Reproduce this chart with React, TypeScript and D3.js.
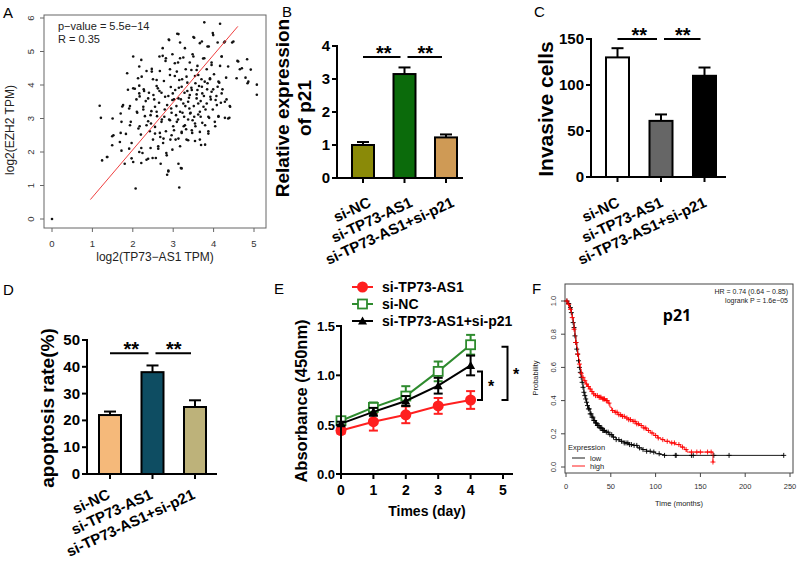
import React from "react";
import * as d3 from "d3";

const FONT = "'Liberation Sans', Arial, Helvetica, sans-serif";

// ---------- Panel A: scatter ----------
const scatterPoints: [number, number][] = [
  [0, 0], [1.18, 3.38], [1.21, 3.02], [1.24, 1.75], [1.36, 1.85], [1.5, 3.0], [1.49, 2.47], [1.49, 2.2],
  [1.7, 3.15], [1.7, 2.57], [1.74, 3.36], [1.72, 2.04], [1.8, 1.65], [1.86, 4.35], [1.83, 2.54], [1.88, 3.86],
  [1.93, 3.37], [1.95, 2.9], [1.97, 2.27], [1.97, 1.81], [2.01, 4.85], [2.05, 3.89], [2.07, 0.91], [2.09, 3.57],
  [2.11, 3.17], [2.13, 4.2], [2.16, 3.98], [2.17, 3.66], [2.17, 2.77], [2.2, 2.52], [2.21, 4.75], [2.21, 2.12],
  [2.21, 1.67], [2.24, 1.97], [2.26, 3.27], [2.27, 3.87], [2.3, 3.07], [2.32, 3.52], [2.34, 4.42], [2.34, 1.77],
  [2.38, 2.92], [2.4, 3.77], [2.42, 2.62], [2.44, 2.12], [2.46, 3.22], [2.47, 4.48], [2.49, 1.82], [2.5, 2.37],
  [2.5, 4.17], [2.53, 3.57], [2.55, 2.75], [2.57, 1.82], [2.59, 3.97], [2.6, 3.07], [2.63, 2.17], [2.65, 3.47],
  [2.67, 4.42], [2.67, 2.57], [2.69, 1.65], [2.71, 3.77], [2.72, 2.97], [2.74, 4.87], [2.75, 2.27], [2.77, 4.12],
  [2.79, 3.27], [2.81, 4.72], [2.82, 2.62], [2.83, 1.97], [2.85, 1.32], [2.88, 1.42], [2.88, 3.67], [2.89, 5.36],
  [2.9, 2.97], [2.92, 4.47], [2.93, 2.37], [2.94, 3.94], [2.96, 3.17], [2.98, 4.92], [2.98, 2.07], [3.0, 2.77],
  [3.02, 3.57], [3.04, 4.27], [3.06, 2.37], [3.08, 3.37], [3.1, 5.53], [3.12, 4.67], [3.12, 2.97], [3.14, 3.92],
  [3.15, 0.94], [3.17, 5.27], [3.17, 2.17], [3.19, 1.52], [3.19, 3.57], [3.21, 2.57], [3.22, 4.17], [3.23, 3.17],
  [3.25, 4.82], [3.26, 2.77], [3.28, 3.77], [3.3, 3.37], [3.31, 4.47], [3.33, 2.37], [3.35, 4.07], [3.37, 2.97],
  [3.39, 3.62], [3.41, 4.67], [3.43, 3.17], [3.45, 3.92], [3.47, 2.57], [3.48, 4.92], [3.5, 5.43], [3.51, 3.37],
  [3.54, 4.27], [3.55, 2.77], [3.58, 3.72], [3.6, 4.57], [3.62, 3.12], [3.64, 3.97], [3.66, 2.37], [3.66, 5.25],
  [3.68, 3.52], [3.7, 4.17], [3.72, 2.87], [3.74, 4.79], [3.76, 3.67], [3.77, 5.87], [3.79, 2.22], [3.8, 3.27],
  [3.83, 4.47], [3.84, 3.87], [3.87, 2.62], [3.88, 5.15], [3.89, 3.02], [3.91, 4.17], [3.93, 3.57], [3.95, 4.67],
  [3.98, 5.55], [3.98, 3.27], [3.99, 3.87], [4.01, 4.32], [4.04, 2.77], [4.07, 3.67], [4.1, 5.27], [4.12, 3.07],
  [4.14, 4.07], [4.16, 5.83], [4.16, 4.57], [4.18, 3.47], [4.2, 4.85], [4.22, 3.87], [4.26, 5.27], [4.28, 3.02],
  [4.31, 4.22], [4.32, 3.57], [4.39, 3.02], [4.4, 3.37], [4.46, 5.27], [4.59, 4.72], [4.65, 4.47], [4.79, 4.22],
  [4.83, 4.77], [4.86, 4.1], [4.92, 4.46], [5.07, 4.01], [5.07, 3.71],
  [2.9, 5.34], [2.74, 5.1], [2.16, 4.55], [2.82, 4.8], [2.66, 4.85], [3.04, 4.65], [2.22, 4.25], [2.47, 4.4],
  [2.59, 4.15], [2.92, 4.3], [2.01, 3.9], [2.16, 3.75], [2.28, 3.82], [2.38, 3.6], [2.51, 3.7], [2.66, 3.82],
  [2.8, 3.65], [2.99, 3.75], [1.76, 3.4], [1.91, 3.3], [2.1, 3.2], [2.26, 3.35], [2.44, 3.1], [2.59, 3.2],
  [2.71, 2.9], [2.92, 2.95], [3.07, 3.1], [1.72, 2.9], [1.93, 2.8], [2.14, 2.7], [2.34, 2.8], [2.55, 2.55],
  [2.76, 2.4], [2.96, 2.5], [1.52, 2.5], [1.68, 2.3], [1.91, 2.1], [2.16, 2.0], [2.38, 1.8], [2.63, 2.1],
  [2.84, 1.9], [1.37, 1.85], [2.01, 1.7], [3.13, 1.65], [2.88, 1.45],
  [3.13, 5.52], [3.52, 5.41], [3.71, 5.3], [3.99, 5.49], [4.28, 5.3], [4.49, 5.3], [3.29, 5.1], [3.85, 5.15],
  [3.17, 4.8], [3.5, 4.85], [3.77, 4.8], [3.95, 4.6], [4.2, 4.85], [4.61, 4.7], [4.36, 4.55], [4.7, 4.5],
  [3.09, 4.4], [3.33, 4.25], [3.62, 4.3], [3.91, 4.2], [4.12, 4.1], [4.57, 4.2], [4.84, 4.05], [3.21, 3.95],
  [3.46, 3.85], [3.71, 3.95], [3.95, 3.8], [4.2, 3.75], [3.13, 3.6], [3.37, 3.5], [3.58, 3.6], [3.83, 3.45],
  [4.08, 3.4], [4.28, 3.5], [4.41, 3.35], [3.17, 3.2], [3.42, 3.15], [3.66, 3.2], [3.87, 3.05], [4.12, 3.05],
  [4.36, 3.0], [3.09, 2.9], [3.29, 2.8], [3.54, 2.85], [3.79, 2.8], [4.03, 2.9], [3.21, 2.6], [3.46, 2.65],
  [3.66, 2.6], [3.87, 2.55], [3.13, 2.4], [3.37, 2.35], [3.54, 2.33], [3.69, 2.21], [3.21, 1.51],
  [3.35, 3.82], [3.55, 4.05], [3.62, 3.45], [3.75, 3.35], [3.41, 3.7], [3.05, 3.85], [2.85, 3.4], [3.27, 3.05],
  [3.48, 2.95], [3.58, 4.45], [3.72, 3.75], [2.98, 3.55], [3.15, 4.15], [3.85, 4.05], [4.05, 3.55], [3.45, 4.45],
  [2.55, 3.35], [2.62, 3.9], [2.78, 3.05], [2.95, 3.3], [3.02, 2.65], [3.25, 3.45], [3.4, 3.3], [3.52, 3.05],
  [3.6, 3.85], [3.78, 4.1], [3.92, 3.65], [4.1, 3.95], [2.45, 2.85], [2.68, 2.45], [3.32, 2.68], [3.68, 3.05],
];
const regressionLine: [number, number][] = [[0.95, 0.58], [4.6, 5.75]];
const scatterXTicks = [0, 1, 2, 3, 4, 5];
const scatterYTicks = [0, 1, 2, 3, 4, 5, 6];

// ---------- Bar panels ----------
const barCategories = ["si-NC", "si-TP73-AS1", "si-TP73-AS1+si-p21"];
const p21Values = [1.0, 3.15, 1.23];
const p21Errors = [0.09, 0.2, 0.09];
const p21Ticks = [0, 1, 2, 3, 4];
const invasiveValues = [130, 61, 110];
const invasiveErrors = [10, 7, 9];
const invasiveTicks = [0, 50, 100, 150];
const apoptosisValues = [22, 38, 25];
const apoptosisErrors = [1.3, 2.5, 2.5];
const apoptosisTicks = [0, 10, 20, 30, 40, 50];

// ---------- Panel E: growth curves ----------
const days = [0, 1, 2, 3, 4];
const dayTicks = [0, 1, 2, 3, 4, 5];
const absorbTicks = [0, 0.5, 1.0, 1.5];
const absTP73 = [0.44, 0.53, 0.6, 0.69, 0.75];
const errTP73 = [0.03, 0.09, 0.085, 0.08, 0.09];
const absNC = [0.54, 0.675, 0.79, 1.04, 1.31];
const errNC = [0.02, 0.05, 0.1, 0.1, 0.1];
const absP21 = [0.51, 0.63, 0.74, 0.895, 1.1];
const errP21 = [0.02, 0.04, 0.05, 0.08, 0.1];

// ---------- Panel F: Kaplan-Meier ----------
const kmLowTime = [0, 2, 4, 6, 7, 8, 9, 10, 11, 12, 13, 14, 15, 16, 17, 18, 19, 20, 21, 22, 23, 24, 25, 27, 29, 31, 33, 35, 38, 41, 44, 48, 52, 56, 60, 65, 70, 75, 80, 85, 90, 95, 100, 105, 110];
const kmLowSurv = [1, 0.985, 0.96, 0.93, 0.9, 0.87, 0.84, 0.79, 0.75, 0.71, 0.68, 0.64, 0.6, 0.57, 0.54, 0.51, 0.48, 0.45, 0.43, 0.41, 0.39, 0.37, 0.35, 0.32, 0.3, 0.28, 0.265, 0.25, 0.235, 0.22, 0.21, 0.195, 0.18, 0.165, 0.155, 0.145, 0.135, 0.13, 0.115, 0.105, 0.095, 0.09, 0.08, 0.075, 0.07];
const kmLowEnd = 243;
const kmLowCensor = [1, 3, 5, 6, 8, 9, 10, 11, 12, 13, 14, 15, 16, 17, 18, 19, 20, 21, 22, 23, 24, 25, 26, 27, 28, 29, 30, 31, 32, 33, 34, 35, 36, 37, 38, 39, 40, 41, 42, 43, 45, 47, 49, 51, 53, 56, 59, 62, 65, 67, 69, 71, 73, 76, 79, 82, 86, 90, 94, 98, 104, 110, 122, 123, 140, 142, 165, 182, 243];
const kmHighTime = [0, 2, 4, 6, 7, 8, 9, 10, 11, 12, 13, 14, 15, 16, 17, 18, 20, 22, 24, 26, 28, 30, 33, 36, 40, 44, 47, 49, 51, 54, 58, 62, 66, 70, 74, 78, 82, 86, 90, 94, 98, 102, 106, 110, 116, 122, 128, 132, 135, 164];
const kmHighSurv = [1, 0.98, 0.95, 0.92, 0.9, 0.87, 0.83, 0.79, 0.75, 0.72, 0.68, 0.65, 0.62, 0.59, 0.565, 0.54, 0.52, 0.5, 0.485, 0.47, 0.455, 0.44, 0.43, 0.42, 0.41, 0.4, 0.385, 0.36, 0.34, 0.33, 0.315, 0.305, 0.295, 0.285, 0.275, 0.26, 0.25, 0.235, 0.22, 0.205, 0.19, 0.175, 0.165, 0.155, 0.145, 0.135, 0.12, 0.105, 0.09, 0.03];
const kmHighEnd = 165;
const kmHighCensor = [1, 3, 5, 7, 9, 11, 13, 15, 17, 19, 21, 23, 25, 27, 29, 31, 33, 35, 37, 38, 39, 41, 42, 43, 45, 46, 48, 52, 55, 57, 59, 61, 63, 65, 68, 70, 72, 75, 77, 79, 81, 84, 87, 89, 92, 96, 100, 103, 108, 113, 118, 121, 126, 130, 134, 140, 146, 150, 158, 162, 164];
const kmXTicks = [0, 50, 100, 150, 200, 250];
const kmYTicks = [0, 0.2, 0.4, 0.6, 0.8, 1.0];

function PanelA() {
  const x = d3.scaleLinear().domain([0, 5]).range([52, 254]);
  const y = d3.scaleLinear().domain([0, 6]).range([219, 18]);
  return (
    <g fontFamily={FONT}>
      <text x={3} y={18} fontSize={15}>A</text>
      <rect x={44} y={15} width={222} height={213} fill="none" stroke="#666" strokeWidth={1} />
      {scatterXTicks.map((t) => (
        <g key={"xt" + t}>
          <line x1={x(t)} x2={x(t)} y1={228} y2={232} stroke="#666" />
          <text x={x(t)} y={247} fontSize={9.5} textAnchor="middle" fill="#333">{t}</text>
        </g>
      ))}
      {scatterYTicks.map((t) => (
        <g key={"yt" + t}>
          <line x1={40} x2={44} y1={y(t)} y2={y(t)} stroke="#666" />
          <text x={34} y={y(t)} fontSize={9.5} textAnchor="middle" fill="#333" transform={`rotate(-90,34,${y(t)})`}>{t}</text>
        </g>
      ))}
      {scatterPoints.map((p, i) => (
        <circle key={i} cx={x(p[0])} cy={y(p[1])} r={1.3} fill="#111" />
      ))}
      <line x1={x(regressionLine[0][0])} y1={y(regressionLine[0][1])} x2={x(regressionLine[1][0])} y2={y(regressionLine[1][1])} stroke="#f04040" strokeWidth={1} />
      <text x={58} y={30} fontSize={11} fill="#222">p−value = 5.5e−14</text>
      <text x={58} y={43} fontSize={11} fill="#222">R = 0.35</text>
      <text x={155} y={261} fontSize={12} textAnchor="middle" fill="#222">log2(TP73−AS1 TPM)</text>
      <text x={14} y={130} fontSize={12} textAnchor="middle" fill="#222" transform="rotate(-90,14,130)">log2(EZH2 TPM)</text>
    </g>
  );
}

type BarProps = {
  label: string; labelX: number; labelY: number;
  values: number[]; errors: number[]; colors: string[];
  yMax: number; ticks: number[];
  axisX: number; axisEnd: number; yBottom: number; yTop: number;
  first: number; last: number; barWidth: number; sigLevel: number;
  titles: string[]; titleXs: number[]; titleY: number; titleSize: number;
  labelDx: number; labelDy: number;
};

function BarPanel(p: BarProps) {
  const y = d3.scaleLinear().domain([0, p.yMax]).range([p.yBottom, p.yTop]);
  const x = d3.scalePoint<string>().domain(barCategories).range([p.first, p.last]);
  const sy = y(p.sigLevel);
  const c = barCategories.map((k) => x(k) as number);
  const sigPairs: [number, number][] = [[0, 1], [1, 2]];
  return (
    <g fontFamily={FONT}>
      <text x={p.labelX} y={p.labelY} fontSize={15}>{p.label}</text>
      {p.values.map((v, i) => {
        const cx = c[i];
        const top = y(v + p.errors[i]);
        return (
          <g key={i}>
            <line x1={cx} x2={cx} y1={y(v)} y2={top} stroke="#000" strokeWidth={2} />
            <line x1={cx - 6} x2={cx + 6} y1={top} y2={top} stroke="#000" strokeWidth={2} />
            <rect x={cx - p.barWidth / 2} y={y(v)} width={p.barWidth} height={p.yBottom - y(v)} fill={p.colors[i]} stroke="#000" strokeWidth={2} />
          </g>
        );
      })}
      <line x1={p.axisX} x2={p.axisX} y1={p.yTop - 1} y2={p.yBottom + 1} stroke="#000" strokeWidth={2} />
      <line x1={p.axisX - 1} x2={p.axisEnd} y1={p.yBottom} y2={p.yBottom} stroke="#000" strokeWidth={2} />
      {p.ticks.map((t) => (
        <g key={t}>
          <line x1={p.axisX - 5} x2={p.axisX} y1={y(t)} y2={y(t)} stroke="#000" strokeWidth={2} />
          <text x={p.axisX - 7} y={y(t) + 5} fontSize={15} fontWeight="bold" textAnchor="end">{t}</text>
        </g>
      ))}
      {barCategories.map((k, i) => {
        const ax = c[i] + p.labelDx, ay = p.yBottom + p.labelDy;
        return (
          <g key={k}>
            <line x1={c[i]} x2={c[i]} y1={p.yBottom} y2={p.yBottom + 5} stroke="#000" strokeWidth={2} />
            <text x={ax} y={ay} fontSize={15} fontWeight="bold" textAnchor="end" transform={`rotate(-25,${ax},${ay})`}>{k}</text>
          </g>
        );
      })}
      {sigPairs.map(([a, b], i) => (
        <g key={"s" + i}>
          <line x1={c[a] + (i === 0 ? 0 : 3)} x2={c[b] - 4} y1={sy} y2={sy} stroke="#000" strokeWidth={2} />
          <text x={(c[a] + c[b]) / 2} y={sy + 3} fontSize={20} fontWeight="bold" textAnchor="middle">**</text>
        </g>
      ))}
      {p.titles.map((t, i) => (
        <text key={t} x={p.titleXs[i]} y={p.titleY} fontSize={p.titleSize} fontWeight="bold" textAnchor="middle" transform={`rotate(-90,${p.titleXs[i]},${p.titleY})`}>{t}</text>
      ))}
    </g>
  );
}

function PanelE() {
  const x = d3.scaleLinear().domain([0, 5]).range([341, 503]);
  const y = d3.scaleLinear().domain([0, 1.5]).range([474, 326]);
  const line = d3.line<number>().x((_, i) => x(days[i])).y((d) => y(d));
  const series = [
    { name: "si-TP73-AS1", vals: absTP73, errs: errTP73, color: "#ff1f1f", kind: "circle" },
    { name: "si-NC", vals: absNC, errs: errNC, color: "#2e8b2e", kind: "square" },
    { name: "si-TP73-AS1+si-p21", vals: absP21, errs: errP21, color: "#000", kind: "tri" },
  ];
  const marker = (kind: string, cx: number, cy: number, color: string, k: string) => {
    if (kind === "circle") return <circle key={k} cx={cx} cy={cy} r={5.5} fill={color} />;
    if (kind === "square") return <rect key={k} x={cx - 4.5} y={cy - 4.5} width={9} height={9} fill="#fff" stroke={color} strokeWidth={1.8} />;
    return <path key={k} d={`M${cx},${cy - 4.5}L${cx + 4.5},${cy + 3.5}L${cx - 4.5},${cy + 3.5}Z`} fill={color} />;
  };
  const bx1 = 482, bx2 = 507.5;
  return (
    <g fontFamily={FONT}>
      <text x={274} y={294} fontSize={15}>E</text>
      {series.map((s) => (
        <g key={s.name}>
          <path d={line(s.vals) as string} fill="none" stroke={s.color} strokeWidth={2} />
          {s.vals.map((v, i) => (
            <g key={i}>
              <line x1={x(days[i])} x2={x(days[i])} y1={y(v - s.errs[i])} y2={y(v + s.errs[i])} stroke={s.color} strokeWidth={2} />
              <line x1={x(days[i]) - 4.5} x2={x(days[i]) + 4.5} y1={y(v - s.errs[i])} y2={y(v - s.errs[i])} stroke={s.color} strokeWidth={2} />
              <line x1={x(days[i]) - 4.5} x2={x(days[i]) + 4.5} y1={y(v + s.errs[i])} y2={y(v + s.errs[i])} stroke={s.color} strokeWidth={2} />
            </g>
          ))}
          {s.vals.map((v, i) => marker(s.kind, x(days[i]), y(v), s.color, "m" + i))}
        </g>
      ))}
      <line x1={341} x2={341} y1={y(1.5) - 1} y2={475} stroke="#000" strokeWidth={2} />
      <line x1={340} x2={513} y1={474} y2={474} stroke="#000" strokeWidth={2} />
      {absorbTicks.map((t) => (
        <g key={t}>
          <line x1={336} x2={341} y1={y(t)} y2={y(t)} stroke="#000" strokeWidth={2} />
          <text x={335} y={y(t) + 5} fontSize={13} fontWeight="bold" textAnchor="end">{t.toFixed(1)}</text>
        </g>
      ))}
      {dayTicks.map((t) => (
        <g key={t}>
          <line x1={x(t)} x2={x(t)} y1={474} y2={479} stroke="#000" strokeWidth={2} />
          <text x={x(t)} y={495} fontSize={14} fontWeight="bold" textAnchor="middle">{t}</text>
        </g>
      ))}
      <text x={427} y={516} fontSize={14} fontWeight="bold" textAnchor="middle">Times (day)</text>
      <text x={307} y={401} fontSize={16.5} fontWeight="bold" textAnchor="middle" transform="rotate(-90,307,401)">Absorbance (450nm)</text>
      {/* brackets */}
      <path d={`M${bx1 - 5},${y(1.04)}H${bx1}V${y(0.75)}H${bx1 - 5}`} fill="none" stroke="#000" strokeWidth={2} />
      <text x={491} y={392} fontSize={16} fontWeight="bold" textAnchor="middle">*</text>
      <path d={`M${bx2 - 6},${y(1.29)}H${bx2}V${y(0.75)}H${bx2 - 6}`} fill="none" stroke="#000" strokeWidth={2} />
      <text x={516} y={380} fontSize={16} fontWeight="bold" textAnchor="middle">*</text>
      {/* legend */}
      {series.map((s, i) => {
        const ly = 287 + i * 17;
        return (
          <g key={"lg" + i}>
            <line x1={352} x2={373} y1={ly} y2={ly} stroke={s.color} strokeWidth={2} />
            {marker(s.kind, 362.5, ly, s.color, "lm")}
            <text x={382} y={ly + 5} fontSize={14} fontWeight="bold">{s.name}</text>
          </g>
        );
      })}
    </g>
  );
}

function PanelF() {
  const x = d3.scaleLinear().domain([0, 250]).range([566, 790]);
  const y = d3.scaleLinear().domain([0, 1]).range([467, 301]);
  const step = d3.line<[number, number]>().x((d) => x(d[0])).y((d) => y(d[1])).curve(d3.curveStepAfter);
  const mk = (times: number[], surv: number[], end: number): [number, number][] => [
    ...times.map((t, i) => [t, surv[i]] as [number, number]),
    [end, surv[surv.length - 1]],
  ];
  const survAt = (times: number[], surv: number[], t: number) => surv[Math.max(0, d3.bisectRight(times, t) - 1)];
  const curves = [
    { times: kmLowTime, surv: kmLowSurv, end: kmLowEnd, censor: kmLowCensor, color: "#000" },
    { times: kmHighTime, surv: kmHighSurv, end: kmHighEnd, censor: kmHighCensor, color: "#f00" },
  ];
  return (
    <g fontFamily={FONT}>
      <text x={532} y={294} fontSize={15}>F</text>
      <rect x={565} y={284} width={228} height={189} fill="none" stroke="#444" strokeWidth={1} />
      {kmXTicks.map((t) => (
        <g key={t}>
          <line x1={x(t)} x2={x(t)} y1={473} y2={477} stroke="#444" />
          <text x={x(t)} y={489} fontSize={7.5} textAnchor="middle" fill="#333">{t}</text>
        </g>
      ))}
      {kmYTicks.map((t) => (
        <g key={t}>
          <line x1={561} x2={565} y1={y(t)} y2={y(t)} stroke="#444" />
          <text x={556} y={y(t)} fontSize={7.5} textAnchor="middle" fill="#333" transform={`rotate(-90,556,${y(t)})`}>{t.toFixed(1)}</text>
        </g>
      ))}
      {curves.map((c, ci) => (
        <g key={ci}>
          <path d={step(mk(c.times, c.surv, c.end)) as string} fill="none" stroke={c.color} strokeWidth={0.9} />
          {c.censor.map((t, i) => {
            const cx = x(t), cy = y(survAt(c.times, c.surv, t));
            return <path key={i} d={`M${cx - 2.5},${cy}H${cx + 2.5}M${cx},${cy - 2.5}V${cy + 2.5}`} stroke={c.color} strokeWidth={0.9} />;
          })}
        </g>
      ))}
      <text x={788} y={294} fontSize={7} textAnchor="end" fill="#222">HR = 0.74 (0.64 − 0.85)</text>
      <text x={788} y={303} fontSize={7} textAnchor="end" fill="#222">logrank P = 1.6e−05</text>
      <text x={677} y={321} fontSize={16} fontWeight="bold" textAnchor="middle" fontFamily="'Open Sans', 'Liberation Sans', sans-serif">p21</text>
      <text x={679} y={506} fontSize={7.5} textAnchor="middle" fill="#222">Time (months)</text>
      <text x={538} y={378} fontSize={7.5} textAnchor="middle" fill="#222" transform="rotate(-90,538,378)">Probability</text>
      <text x={568} y={450} fontSize={7.5} fill="#222">Expression</text>
      <line x1={572} x2={585} y1={458} y2={458} stroke="#000" strokeWidth={0.9} />
      <text x={590} y={460.5} fontSize={7.5} fill="#222">low</text>
      <line x1={572} x2={585} y1={466} y2={466} stroke="#f00" strokeWidth={0.9} />
      <text x={590} y={468.5} fontSize={7.5} fill="#222">high</text>
    </g>
  );
}

export default function App() {
  return (
    <svg width={800} height={565} style={{ position: "absolute", left: 0, top: 0, background: "#fff" }}>
      <rect x={0} y={0} width={800} height={565} fill="#fff" />
      <PanelA />
      <BarPanel
        label="B" labelX={282} labelY={17}
        values={p21Values} errors={p21Errors} colors={["#8a8a08", "#0b6b0b", "#cf9a55"]}
        yMax={4} ticks={p21Ticks}
        axisX={337} axisEnd={463} yBottom={178} yTop={46}
        first={363} last={446} barWidth={22} sigLevel={3.67}
        titles={["Relative expression", "of p21"]} titleXs={[289, 311]} titleY={108} titleSize={19}
        labelDx={9} labelDy={28}
      />
      <BarPanel
        label="C" labelX={534} labelY={17}
        values={invasiveValues} errors={invasiveErrors} colors={["#ffffff", "#666666", "#000000"]}
        yMax={150} ticks={invasiveTicks}
        axisX={591} axisEnd={726} yBottom={177} yTop={39}
        first={617.5} last={704.5} barWidth={23} sigLevel={150}
        titles={["Invasive cells"]} titleXs={[553]} titleY={109} titleSize={21}
        labelDx={3} labelDy={29}
      />
      <BarPanel
        label="D" labelX={3} labelY={295}
        values={apoptosisValues} errors={apoptosisErrors} colors={["#f5b97a", "#0e4d62", "#bdb27a"]}
        yMax={50} ticks={apoptosisTicks}
        axisX={87} axisEnd={217} yBottom={474} yTop={340}
        first={110} last={195} barWidth={22} sigLevel={45.1}
        titles={["apoptosis rate(%)"]} titleXs={[54]} titleY={408} titleSize={19}
        labelDx={1} labelDy={24}
      />
      <PanelE />
      <PanelF />
    </svg>
  );
}
